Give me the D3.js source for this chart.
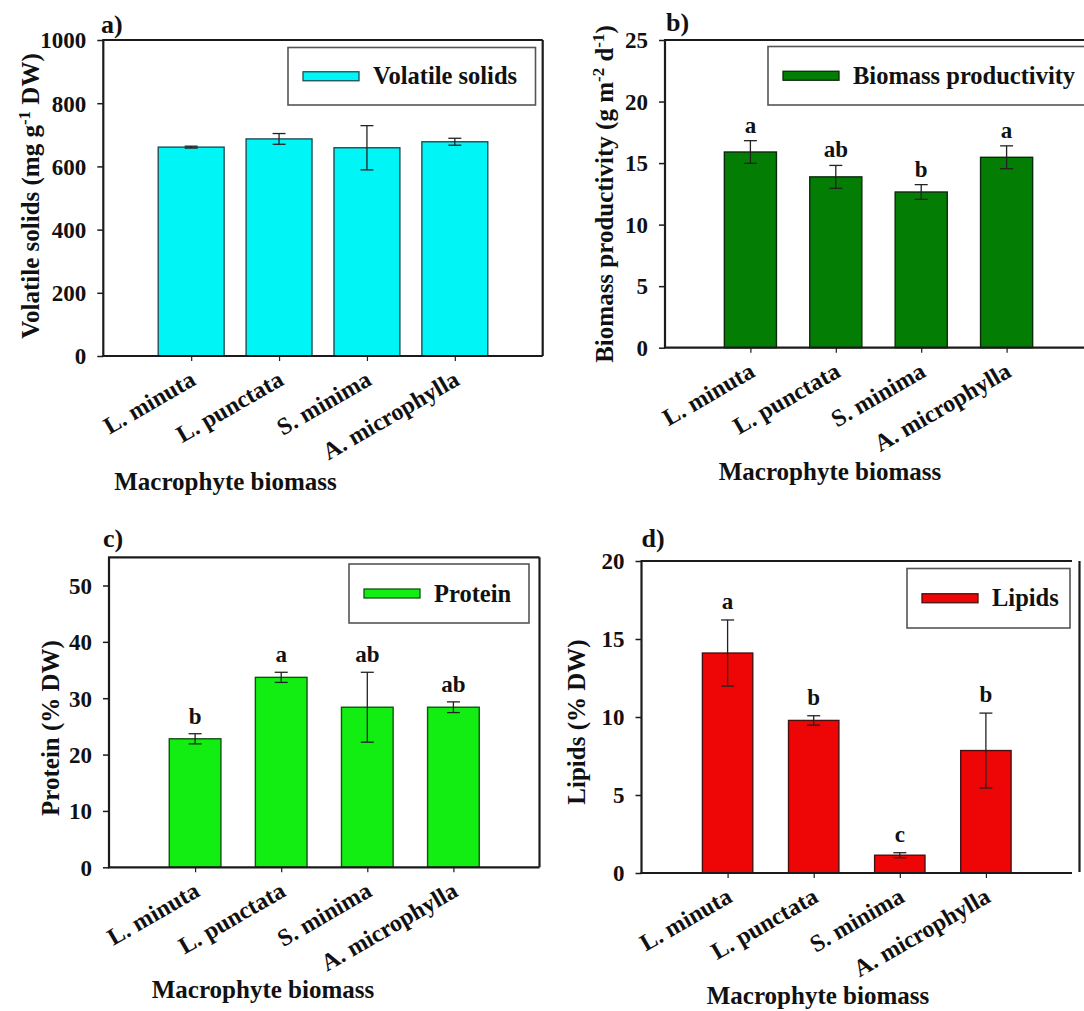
<!DOCTYPE html>
<html>
<head>
<meta charset="utf-8">
<script src="https://cdn.jsdelivr.net/npm/d3@7"></script>
<style>
  html, body { margin: 0; padding: 0; background: #fff; }
  svg { display: block; }
  text { font-family: "Liberation Serif", "Times New Roman", serif; font-weight: bold; fill: #111; }
</style>
</head>
<body>
<svg id="fig" width="1084" height="1011"></svg>
<script>
// ---- data ----
const categories = ["L. minuta", "L. punctata", "S. minima", "A. microphylla"];

const volatileSolids    = [661, 687, 659, 678];
const volatileSolidsErr = [3, 17, 70, 11];

const biomassProductivity    = [15.9, 13.88, 12.65, 15.47];
const biomassProductivityErr = [0.92, 0.93, 0.6, 0.93];
const biomassLetters         = ["a", "ab", "b", "a"];

const protein        = [22.8, 33.7, 28.4, 28.4];
const proteinErr     = [0.9, 0.9, 6.2, 0.95];
const proteinLetters = ["b", "a", "ab", "ab"];

const lipids        = [14.1, 9.78, 1.14, 7.85];
const lipidsErr     = [2.12, 0.3, 0.16, 2.4];
const lipidsLetters = ["a", "b", "c", "b"];

const ticksVolatile = [0, 200, 400, 600, 800, 1000];
const ticksBiomass  = [0, 5, 10, 15, 20, 25];
const ticksProtein  = [0, 10, 20, 30, 40, 50];
const ticksLipids   = [0, 5, 10, 15, 20];

const xTitle = "Macrophyte biomass";

// ---- panel layout ----
const panels = [
  {
    tag: "a)", values: volatileSolids, errors: volatileSolidsErr, letters: null,
    ticks: ticksVolatile, domain: [0, 1000], fill: "#00f6f6", stroke: "#1d4f55",
    legend: "Volatile solids",
    yTitle: [["Volatile solids (mg g", 0], ["-1", 1], [" DW)", 0]],
    box: { left: 103.3, right: 542.7, top: 40, bottom: 356 }, barFrac: 0.75,
    frame: "full",
    tagPos: [101, 33],
    yTitlePos: [39, 196],
    xTitlePos: [225.5, 490],
    legendBox: { x0: 288, x1: 535.5, y0: 47.5, y1: 105 },
    letterGap: 9
  },
  {
    tag: "b)", values: biomassProductivity, errors: biomassProductivityErr, letters: biomassLetters,
    ticks: ticksBiomass, domain: [0, 25], fill: "#047d04", stroke: "#0b2a0b",
    legend: "Biomass productivity",
    yTitle: [["Biomass productivity (g m", 0], ["-2", 1], [" d", 0], ["-1", 1], [")", 0]],
    box: { left: 665, right: 1092, top: 40, bottom: 347.7 }, barFrac: 0.61,
    frame: "open",
    tagPos: [666, 31],
    yTitlePos: [613, 194],
    xTitlePos: [830, 480],
    legendBox: { x0: 768, x1: 1086, y0: 46.5, y1: 105 },
    letterGap: 8
  },
  {
    tag: "c)", values: protein, errors: proteinErr, letters: proteinLetters,
    ticks: ticksProtein, domain: [0, 55], fill: "#12ee12", stroke: "#145214",
    legend: "Protein",
    yTitle: [["Protein (% DW)", 0]],
    box: { left: 109, right: 539.5, top: 557.3, bottom: 867.3 }, barFrac: 0.60,
    frame: "full",
    tagPos: [103, 546.5],
    yTitlePos: [59, 728],
    xTitlePos: [263, 998],
    legendBox: { x0: 349, x1: 529, y0: 564, y1: 623 },
    letterGap: 10
  },
  {
    tag: "d)", values: lipids, errors: lipidsErr, letters: lipidsLetters,
    ticks: ticksLipids, domain: [0, 20], fill: "#ee0606", stroke: "#4a1010",
    legend: "Lipids",
    yTitle: [["Lipids (% DW)", 0]],
    box: { left: 641.5, right: 1072, top: 561, bottom: 873 }, barFrac: 0.585,
    frame: "offsetRight", rightLine: 1079.5,
    tagPos: [641.5, 546.5],
    yTitlePos: [585, 722],
    xTitlePos: [818, 1004],
    legendBox: { x0: 907, x1: 1070, y0: 568.5, y1: 628 },
    letterGap: 11
  }
];

const svg = d3.select("#fig");
const axisColor = "#1b1b1b";

panels.forEach(p => {
  const g = svg.append("g");
  const b = p.box;

  // categories sit on interior positions of a five-step band
  const x = d3.scalePoint().domain(categories).range([b.left, b.right]).padding(1);
  const step = x.step();
  const barW = step * p.barFrac;
  const y = d3.scaleLinear().domain(p.domain).range([b.bottom, b.top]);

  // bars
  g.selectAll("rect.bar").data(categories).join("rect")
    .attr("class", "bar")
    .attr("x", d => x(d) - barW / 2)
    .attr("width", barW)
    .attr("y", (d, i) => y(p.values[i]))
    .attr("height", (d, i) => y(0) - y(p.values[i]))
    .attr("fill", p.fill)
    .attr("stroke", p.stroke)
    .attr("stroke-width", 1.4);

  // error bars
  const cap = 6.5;
  const eb = g.selectAll("g.err").data(categories).join("g").attr("class", "err")
    .attr("stroke", "#222").attr("stroke-width", 1.3);
  eb.append("line")
    .attr("x1", d => x(d)).attr("x2", d => x(d))
    .attr("y1", (d, i) => y(p.values[i] - p.errors[i]))
    .attr("y2", (d, i) => y(p.values[i] + p.errors[i]));
  eb.append("line")
    .attr("x1", d => x(d) - cap).attr("x2", d => x(d) + cap)
    .attr("y1", (d, i) => y(p.values[i] + p.errors[i]))
    .attr("y2", (d, i) => y(p.values[i] + p.errors[i]));
  eb.append("line")
    .attr("x1", d => x(d) - cap).attr("x2", d => x(d) + cap)
    .attr("y1", (d, i) => y(p.values[i] - p.errors[i]))
    .attr("y2", (d, i) => y(p.values[i] - p.errors[i]));

  // significance letters
  if (p.letters) {
    g.selectAll("text.letter").data(categories).join("text")
      .attr("class", "letter")
      .attr("x", d => x(d))
      .attr("y", (d, i) => y(p.values[i] + p.errors[i]) - p.letterGap)
      .attr("text-anchor", "middle")
      .style("font-size", "23px")
      .text((d, i) => p.letters[i]);
  }

  // y axis
  const yAxis = g.append("g")
    .attr("transform", `translate(${b.left},0)`)
    .call(d3.axisLeft(y).tickValues(p.ticks).tickFormat(d3.format("d"))
      .tickSize(6).tickPadding(11).tickSizeOuter(0));
  yAxis.select(".domain").remove();
  yAxis.selectAll(".tick line").attr("stroke", axisColor).attr("stroke-width", 1.5);
  yAxis.selectAll(".tick text")
    .style("font-size", "23px").style("font-family", "Liberation Serif, serif")
    .style("font-weight", "bold").attr("fill", "#111").attr("dy", "0.34em");

  // x axis (ticks only; labels rotated)
  const xAxis = g.append("g")
    .attr("transform", `translate(0,${b.bottom})`)
    .call(d3.axisBottom(x).tickSize(5).tickSizeOuter(0).tickFormat(""));
  xAxis.select(".domain").remove();
  xAxis.selectAll(".tick line").attr("stroke", axisColor).attr("stroke-width", 1.2);

  g.selectAll("text.cat").data(categories).join("text")
    .attr("class", "cat")
    .attr("text-anchor", "end")
    .attr("transform", d => `translate(${x(d) + 6},${b.bottom + 28}) rotate(-30)`)
    .style("font-size", "24px")
    .text(d => d);

  // frame
  const fr = g.append("g").attr("stroke", axisColor).attr("stroke-width", 2.2).attr("fill", "none");
  fr.append("line").attr("x1", b.left).attr("x2", b.left).attr("y1", b.top).attr("y2", b.bottom);
  fr.append("line").attr("x1", b.left - 1).attr("x2", b.right).attr("y1", b.bottom).attr("y2", b.bottom);
  fr.append("line").attr("x1", b.left - 1).attr("x2", b.right).attr("y1", b.top).attr("y2", b.top);
  if (p.frame === "full") {
    fr.append("line").attr("x1", b.right).attr("x2", b.right).attr("y1", b.top).attr("y2", b.bottom);
  } else if (p.frame === "offsetRight") {
    fr.append("line").attr("x1", p.rightLine).attr("x2", p.rightLine).attr("y1", b.top).attr("y2", b.bottom - 1);
  }

  // legend
  const L = p.legendBox;
  g.append("rect")
    .attr("x", L.x0).attr("y", L.y0).attr("width", L.x1 - L.x0).attr("height", L.y1 - L.y0)
    .attr("fill", "#fff").attr("stroke", "#555").attr("stroke-width", 1.6);
  const midY = (L.y0 + L.y1) / 2;
  g.append("rect")
    .attr("x", L.x0 + 15).attr("y", midY - 4.5).attr("width", 56).attr("height", 9)
    .attr("fill", p.fill).attr("stroke", p.stroke).attr("stroke-width", 1.3);
  g.append("text")
    .attr("x", L.x0 + 85).attr("y", midY + 8)
    .style("font-size", "24.5px")
    .text(p.legend);

  // panel tag
  g.append("text").attr("x", p.tagPos[0]).attr("y", p.tagPos[1])
    .style("font-size", "26px").text(p.tag);

  // axis titles
  const yt = g.append("text")
    .attr("transform", `translate(${p.yTitlePos[0]},${p.yTitlePos[1]}) rotate(-90)`)
    .attr("text-anchor", "middle")
    .style("font-size", "25px");
  p.yTitle.forEach(([txt, sup]) => {
    const t = yt.append("tspan").text(txt);
    if (sup) t.attr("baseline-shift", "super").style("font-size", "17px");
  });

  g.append("text")
    .attr("x", p.xTitlePos[0]).attr("y", p.xTitlePos[1])
    .attr("text-anchor", "middle")
    .style("font-size", "25px")
    .text(xTitle);
});
</script>
</body>
</html>
